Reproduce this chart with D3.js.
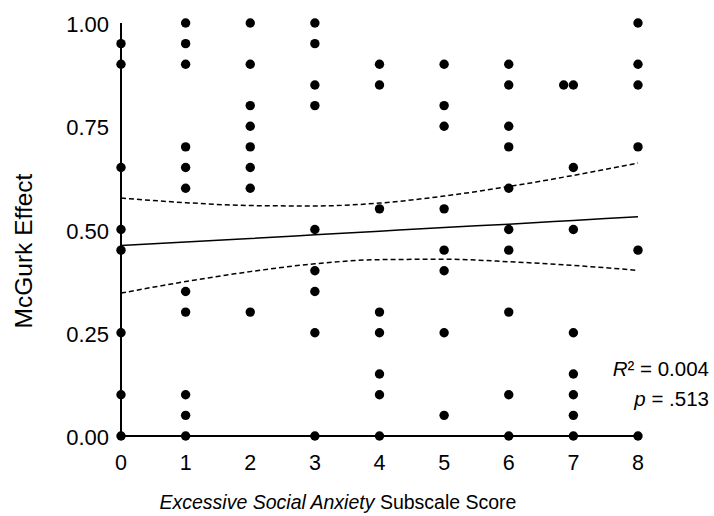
<!DOCTYPE html>
<html>
<head>
	<meta charset="UTF-8">
	<script src="https://d3js.org/d3.v7.min.js"></script>
	<style>
		body { margin: 0; background: #fff; }
		text { font-family: "Liberation Sans", Arial, sans-serif; fill: #000; }
	</style>
</head>
<body>
	<svg width="714" height="516"></svg>
	<script>
		var width = 714;
		var height = 516;

		// McGurk effect values read per subscale score (x = 0..8)
		var scores = [0, 1, 2, 3, 4, 5, 6, 7, 8];
		var col0 = [0.95, 0.90, 0.65, 0.50, 0.45, 0.25, 0.10, 0.00];
		var col1 = [1.00, 0.95, 0.90, 0.70, 0.65, 0.60, 0.35, 0.30, 0.10, 0.05, 0.00];
		var col2 = [1.00, 0.90, 0.80, 0.75, 0.70, 0.65, 0.60, 0.30];
		var col3 = [1.00, 0.95, 0.85, 0.80, 0.50, 0.40, 0.35, 0.25, 0.00];
		var col4 = [0.90, 0.85, 0.55, 0.30, 0.25, 0.15, 0.10, 0.00];
		var col5 = [0.90, 0.80, 0.75, 0.55, 0.45, 0.40, 0.25, 0.05];
		var col6 = [0.90, 0.85, 0.75, 0.70, 0.60, 0.50, 0.45, 0.30, 0.10, 0.00];
		var col7 = [0.85, 0.65, 0.50, 0.25, 0.15, 0.10, 0.05, 0.00];
		var col8 = [1.00, 0.90, 0.85, 0.70, 0.45, 0.00];
		// one point drawn slightly left of the 7 column
		var extraPoints = [{ x: 6.85, y: 0.85 }];

		// fitted line and 95% band, read at each score
		var fitValues = [0.461, 0.470, 0.478, 0.487, 0.496, 0.505, 0.513, 0.522, 0.531];
		var upperValues = [0.576, 0.565, 0.558, 0.557, 0.564, 0.581, 0.604, 0.631, 0.661];
		var lowerValues = [0.346, 0.374, 0.398, 0.417, 0.427, 0.428, 0.422, 0.413, 0.401];

		var yTicks = [0, 0.25, 0.5, 0.75, 1];

		var columns = [col0, col1, col2, col3, col4, col5, col6, col7, col8];
		var points = [];
		columns.forEach(function (col, i) {
			col.forEach(function (v) { points.push({ x: scores[i], y: v }); });
		});
		extraPoints.forEach(function (p) { points.push(p); });

		var x = d3.scaleLinear().domain([0, 8]).range([121, 638]);
		var y = d3.scaleLinear().domain([0, 1]).range([436, 23]);

		var svg = d3.select("svg");

		// axes (no tick marks)
		svg.append("line")
			.attr("x1", x(0)).attr("x2", x(0))
			.attr("y1", y(1)).attr("y2", y(0))
			.attr("stroke", "#000").attr("stroke-width", 2);
		svg.append("line")
			.attr("x1", x(0)).attr("x2", x(8))
			.attr("y1", y(0)).attr("y2", y(0))
			.attr("stroke", "#000").attr("stroke-width", 2);

		svg.selectAll(".ytick")
			.data(yTicks)
			.enter()
			.append("text")
			.attr("class", "ytick")
			.attr("x", 109)
			.attr("y", d => y(d))
			.attr("dy", "0.42em")
			.attr("text-anchor", "end")
			.attr("font-size", 22)
			.text(d => d3.format(".2f")(d));

		svg.selectAll(".xtick")
			.data(scores)
			.enter()
			.append("text")
			.attr("class", "xtick")
			.attr("x", d => x(d))
			.attr("y", 470)
			.attr("text-anchor", "middle")
			.attr("font-size", 21.5)
			.text(d => d);

		// regression line and band
		var line = d3.line()
			.x((d, i) => x(scores[i]))
			.y(d => y(d))
			.curve(d3.curveMonotoneX);

		svg.append("path")
			.attr("d", line(fitValues))
			.attr("fill", "none")
			.attr("stroke", "#000")
			.attr("stroke-width", 1.5);

		[upperValues, lowerValues].forEach(function (vals) {
			svg.append("path")
				.attr("d", line(vals))
				.attr("fill", "none")
				.attr("stroke", "#000")
				.attr("stroke-width", 1.5)
				.attr("stroke-dasharray", "5,3");
		});

		// points
		svg.selectAll(".dot")
			.data(points)
			.enter()
			.append("circle")
			.attr("class", "dot")
			.attr("cx", d => x(d.x))
			.attr("cy", d => y(d.y))
			.attr("r", 4.7)
			.attr("fill", "#000");

		// stats
		var stats = svg.append("text")
			.attr("x", 709).attr("y", 376)
			.attr("text-anchor", "end")
			.attr("font-size", 20.5);
		stats.append("tspan").attr("font-style", "italic").text("R");
		stats.append("tspan").text("\u00b2 = 0.004");

		var pText = svg.append("text")
			.attr("x", 709).attr("y", 406)
			.attr("text-anchor", "end")
			.attr("font-size", 20.5);
		pText.append("tspan").attr("font-style", "italic").text("p");
		pText.append("tspan").text(" = .513");

		// axis titles
		var xTitle = svg.append("text")
			.attr("x", 338).attr("y", 509)
			.attr("text-anchor", "middle")
			.attr("font-size", 19.5);
		xTitle.append("tspan").attr("font-style", "italic").text("Excessive Social Anxiety");
		xTitle.append("tspan").text(" Subscale Score");

		svg.append("text")
			.attr("transform", "translate(32,251) rotate(-90)")
			.attr("text-anchor", "middle")
			.attr("font-size", 24.5)
			.text("McGurk Effect");
	</script>
</body>
</html>
